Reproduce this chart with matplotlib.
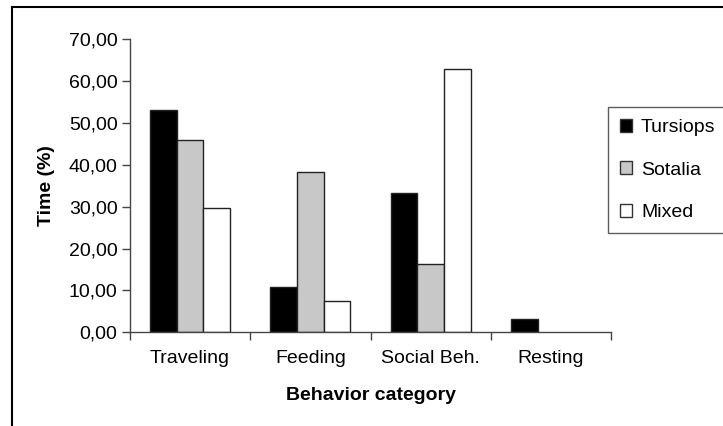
import numpy as np
import matplotlib
matplotlib.use('Agg')
import matplotlib.pyplot as plt
from matplotlib.patches import Rectangle, Patch
from matplotlib.ticker import FuncFormatter, FixedLocator

# data
categories = ['Traveling', 'Feeding', 'Social Beh.', 'Resting']
series = ['Tursiops', 'Sotalia', 'Mixed']
tursiops = [53.1, 10.9, 33.2, 3.2]
sotalia = [45.8, 38.2, 16.2, 0.0]
mixed = [29.6, 7.5, 62.8, 0.0]
colors = ['#000000', '#c8c8c8', '#ffffff']
y_ticks = [0, 10, 20, 30, 40, 50, 60, 70]

plt.rcParams['font.family'] = ['Liberation Sans', 'DejaVu Sans']
fs = 14

fig = plt.figure(figsize=(7.23, 4.26), dpi=100)
ax = fig.add_axes([130/723, 1-332.3/426, (611-130)/723, (332.3-39)/426])

# Excel style clustered bars: gap width 150%
x = np.arange(len(categories)) + 0.5
bar_w = 1 / 4.5
for i, vals in enumerate([tursiops, sotalia, mixed]):
    pos = x + (i - 1) * bar_w
    bars = ax.bar(pos, vals, width=bar_w, color=colors[i], edgecolor='#222222',
                  linewidth=1.0, label=series[i])
    # zero values show nothing in the original
    for b, v in zip(bars, vals):
        if v == 0:
            b.set_visible(False)

ax.set_xlim(0, len(categories))
ax.set_ylim(0, 70)
ax.set_yticks(y_ticks)
ax.yaxis.set_major_formatter(FuncFormatter(lambda v, p: f'{v:.2f}'.replace('.', ',')))
# ticks on category boundaries, labels in the middle
ax.xaxis.set_major_locator(FixedLocator(np.arange(len(categories) + 1)))
ax.xaxis.set_major_formatter(FuncFormatter(lambda v, p: ''))
ax.xaxis.set_minor_locator(FixedLocator(x))
ax.set_xticklabels(categories, minor=True)
ax.tick_params(axis='x', which='minor', length=0, pad=13, labelsize=fs)
ax.tick_params(axis='x', which='major', length=6, width=1, color='#444444', direction='out')
ax.tick_params(axis='y', length=6, width=1, color='#444444', direction='out', labelsize=fs, pad=3)

for s in ['top', 'right']:
    ax.spines[s].set_visible(False)
for s in ['left', 'bottom']:
    ax.spines[s].set_color('#444444')
    ax.spines[s].set_linewidth(1.0)

ax.set_ylabel('Time (%)', fontsize=fs, fontweight='bold', labelpad=10)
ax.set_xlabel('Behavior category', fontsize=fs, fontweight='bold', labelpad=14)

handles = [Patch(facecolor=c, edgecolor='#333333', linewidth=1.0) for c in colors]
leg = fig.legend(handles, series, loc='upper left', bbox_to_anchor=(608/723, 1-107/426),
                 fontsize=fs, frameon=True, fancybox=False, handlelength=0.65,
                 handleheight=0.65, handletextpad=0.45, labelspacing=1.3,
                 borderpad=0.6, borderaxespad=0)
leg.get_frame().set_edgecolor('#333333')
leg.get_frame().set_linewidth(1.0)

# outer chart frame
fig.patches.append(Rectangle((12/723, -0.1), 1.0, (426-7)/426 + 0.1, transform=fig.transFigure,
                             fill=False, edgecolor='black', linewidth=1.5))

fig.savefig('out.png', dpi=100)
